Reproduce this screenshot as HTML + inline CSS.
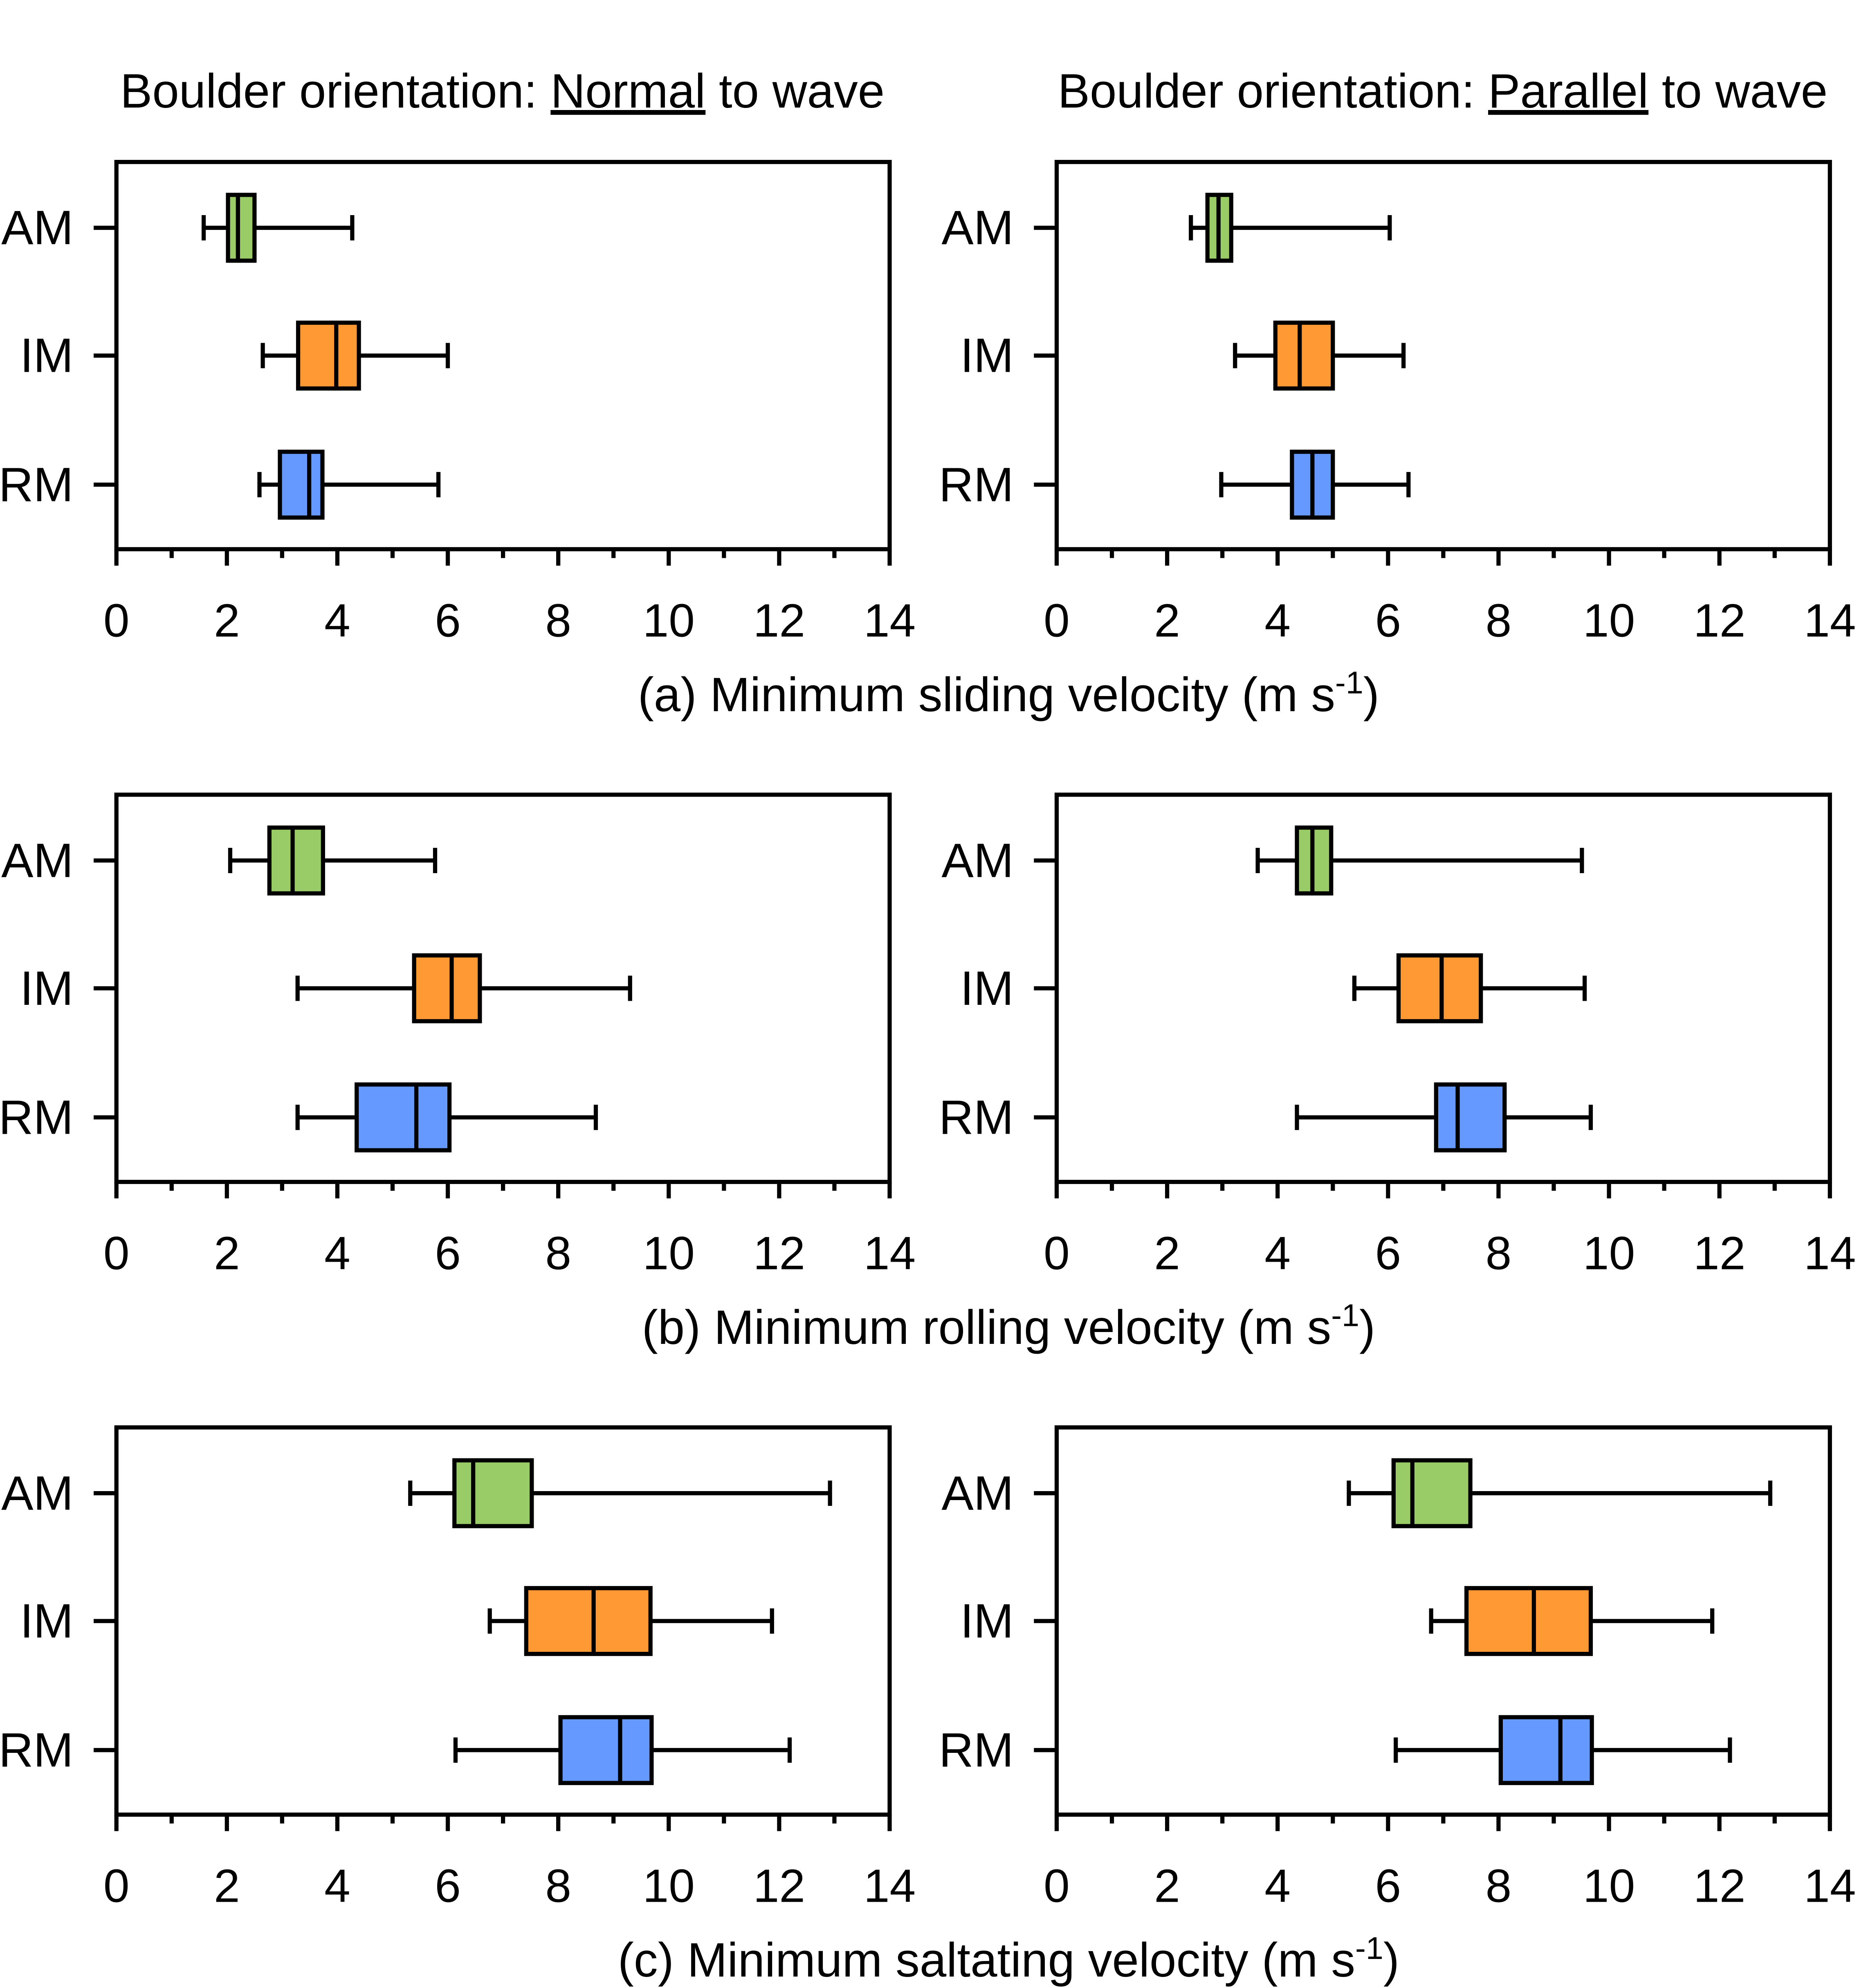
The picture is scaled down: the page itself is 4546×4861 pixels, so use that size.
<!DOCTYPE html>
<html><head><meta charset="utf-8"><style>
html,body{margin:0;padding:0;background:#fff;}
svg{display:block;font-family:"Liberation Sans",Arial,sans-serif;}
</style></head><body>
<svg id="chart" width="4546" height="4861" viewBox="0 0 1469 1571" preserveAspectRatio="none" xmlns="http://www.w3.org/2000/svg">
<text x="397" y="85" font-size="38" text-anchor="middle">Boulder orientation: <tspan text-decoration="underline">Normal</tspan> to wave</text>
<text x="1140" y="85" font-size="38" text-anchor="middle">Boulder orientation: <tspan text-decoration="underline">Parallel</tspan> to wave</text>
</svg>
<script>
const categories = ["AM","IM","RM"];
const colors = ["#99cc66","#ff9933","#6699ff"];
const panelTitles = ["(a) Minimum sliding velocity (m s","(b) Minimum rolling velocity (m s","(c) Minimum saltating velocity (m s"];
const xTicks = [0,2,4,6,8,10,12,14];
// each: [whiskerLow, q1, median, q3, whiskerHigh] for AM, IM, RM
const slidingNormal = [[1.58,2.02,2.2,2.5,4.27],[2.65,3.29,3.98,4.39,6.0],[2.59,2.96,3.49,3.73,5.83]];
const slidingParallel = [[2.43,2.73,2.93,3.16,6.03],[3.23,3.96,4.4,5.0,6.28],[2.98,4.26,4.63,5.0,6.37]];
const rollingNormal = [[2.06,2.77,3.19,3.74,5.77],[3.28,5.39,6.07,6.58,9.30],[3.28,4.35,5.43,6.03,8.68]];
const rollingParallel = [[3.64,4.35,4.63,4.97,9.51],[5.39,6.19,6.97,7.68,9.56],[4.35,6.87,7.26,8.11,9.67]];
const saltNormal = [[5.32,6.12,6.46,7.52,12.92],[6.76,7.42,8.64,9.67,11.87],[6.14,8.04,9.12,9.69,12.19]];
const saltParallel = [[5.29,6.10,6.44,7.49,12.92],[6.78,7.42,8.64,9.67,11.87],[6.14,8.04,9.12,9.69,12.19]];

const svg=document.getElementById('chart');
const NS="http://www.w3.org/2000/svg";
function mk(tag,attrs,parent){const e=document.createElementNS(NS,tag);for(const k in attrs)e.setAttribute(k,attrs[k]);(parent||svg).appendChild(e);return e;}
const rows=[[slidingNormal,slidingParallel],[rollingNormal,rollingParallel],[saltNormal,saltParallel]];
const lefts=[92,835], W=611, H=306, tops=[128,628,1128], rowOff=[52,153,255];
const SW=3.3;
rows.forEach((pair,ri)=>{
  pair.forEach((data,ci)=>{
    const L=lefts[ci],T=tops[ri];
    const xs=v=>L+v*W/14;
    const g=mk('g',{});
    
    
    const fr=mk('rect',{x:L,y:T,width:W,height:H,fill:'none',stroke:'#000','stroke-width':SW},g);
    
    
    for(let v=0;v<=14;v++){
      const t=mk('line',{x1:xs(v),x2:xs(v),y1:T+H,y2:T+H+(v%2?7:13),stroke:'#000','stroke-width':SW},g);
      
      
    }
    xTicks.forEach(v=>{
      const tl=mk('text',{x:xs(v),y:T+H+69,'font-size':37,'text-anchor':'middle'},g);
      tl.textContent=v;
      
      
    });
    categories.forEach((c,k)=>{
      const y=T+rowOff[k];
      const ct=mk('line',{x1:L-18,x2:L,y1:y,y2:y,stroke:'#000','stroke-width':SW},g);
      
      
      const lb=mk('text',{x:L-34,y:y+13,'font-size':38,'text-anchor':'end'},g);
      lb.textContent=c;
      
      
      const d=data[k];
      const bg=mk('g',{},g);
      
      
      mk('line',{x1:xs(d[0]),x2:xs(d[4]),y1:y,y2:y,stroke:'#000','stroke-width':SW},bg);
      mk('line',{x1:xs(d[0]),x2:xs(d[0]),y1:y-10,y2:y+10,stroke:'#000','stroke-width':SW},bg);
      mk('line',{x1:xs(d[4]),x2:xs(d[4]),y1:y-10,y2:y+10,stroke:'#000','stroke-width':SW},bg);
      mk('rect',{x:xs(d[1]),y:y-26,width:xs(d[3])-xs(d[1]),height:52,fill:colors[k],stroke:'#000','stroke-width':SW},bg);
      mk('line',{x1:xs(d[2]),x2:xs(d[2]),y1:y-26,y2:y+26,stroke:'#000','stroke-width':SW},bg);
    });
  });
  const st=mk('text',{x:797,y:tops[ri]+434,'font-size':38,'text-anchor':'middle'});
  
  
  st.textContent=panelTitles[ri];
  const sup=mk('tspan',{'font-size':25,dy:-14},st);sup.textContent='-1';
  const cl=mk('tspan',{'font-size':38,dy:14},st);cl.textContent=')';
});
</script>
</body></html>
